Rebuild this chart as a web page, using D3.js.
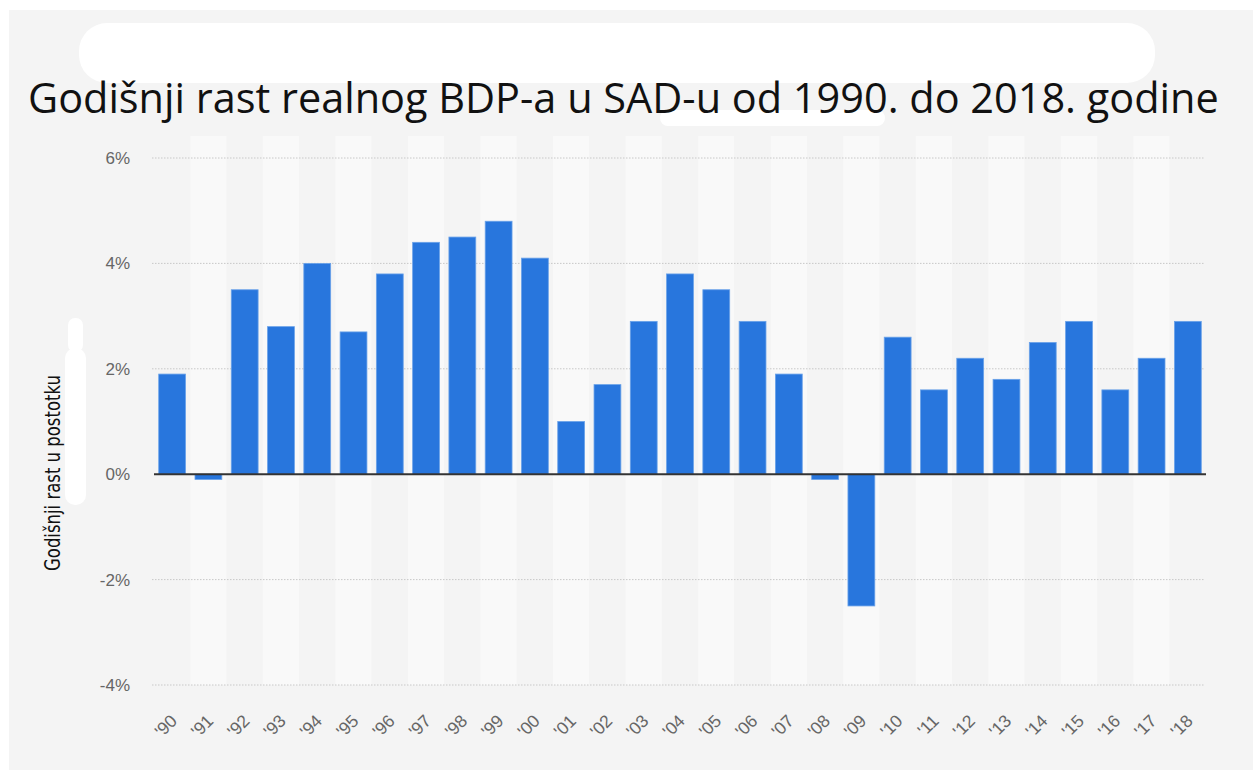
<!DOCTYPE html>
<html>
<head>
<meta charset="utf-8">
<script src="https://cdn.jsdelivr.net/npm/d3@7"></script>
<style>
  body { margin: 0; background: #fff; }
  svg { display: block; }
</style>
</head>
<body>
<div id="chart"></div>
<script>
const years = ["'90", "'91", "'92", "'93", "'94", "'95", "'96", "'97", "'98", "'99",
               "'00", "'01", "'02", "'03", "'04", "'05", "'06", "'07", "'08", "'09",
               "'10", "'11", "'12", "'13", "'14", "'15", "'16", "'17", "'18"];
const growth = [1.9, -0.1, 3.5, 2.8, 4.0, 2.7, 3.8, 4.4, 4.5, 4.8,
                4.1, 1.0, 1.7, 2.9, 3.8, 3.5, 2.9, 1.9, -0.1, -2.5,
                2.6, 1.6, 2.2, 1.8, 2.5, 2.9, 1.6, 2.2, 2.9];
const yTicks = [-4, -2, 0, 2, 4, 6];

const titleText = "Godišnji rast realnog BDP-a u SAD-u od 1990. do 2018. godine";
const yTitle = "Godišnji rast u postotku";

const width = 1253, height = 770;

const svg = d3.select("#chart").append("svg")
    .attr("width", width)
    .attr("height", height);

// panel
svg.append("rect")
    .attr("x", 9).attr("y", 10)
    .attr("width", width - 9).attr("height", height - 10)
    .attr("fill", "#f4f4f4");

const x = d3.scaleBand()
    .domain(years)
    .range([154, 1206])
    .padding(0);

const y = d3.scaleLinear()
    .domain([-4, 6])
    .range([685, 158]);

// alternating column bands
svg.append("g")
    .selectAll("rect")
    .data(years)
    .enter().append("rect")
    .attr("x", d => x(d))
    .attr("y", 136)
    .attr("width", x.bandwidth())
    .attr("height", y(-4) - 136)
    .attr("fill", (d, i) => i % 2 ? "#f9f9f9" : "#f4f4f4");

// gridlines + tick labels
const grid = svg.append("g");
grid.selectAll("line")
    .data(yTicks.filter(t => t !== 0))
    .enter().append("line")
    .attr("x1", 152).attr("x2", 1205)
    .attr("y1", d => y(d)).attr("y2", d => y(d))
    .attr("stroke", "#c8c8c8")
    .attr("stroke-width", 1)
    .attr("stroke-dasharray", "1.5,1.5");

grid.selectAll("text")
    .data(yTicks)
    .enter().append("text")
    .attr("x", 130)
    .attr("y", d => y(d))
    .attr("dy", "0.35em")
    .attr("text-anchor", "end")
    .attr("font-family", "'Liberation Sans', Arial, sans-serif")
    .attr("font-size", 17)
    .attr("fill", "#666")
    .text(d => d + "%");

// bars
const barW = x.bandwidth() * 0.74;
svg.append("g")
    .selectAll("rect")
    .data(growth)
    .enter().append("rect")
    .attr("x", (d, i) => x(years[i]) + (x.bandwidth() - barW) / 2)
    .attr("y", d => y(Math.max(0, d)))
    .attr("width", barW)
    .attr("height", d => Math.abs(y(d) - y(0)))
    .attr("fill", "#2876dd")
    .attr("stroke", "#6aa2e9")
    .attr("stroke-width", 0.8);

// zero line
svg.append("line")
    .attr("x1", 154).attr("x2", 1206)
    .attr("y1", y(0)).attr("y2", y(0))
    .attr("stroke", "#333")
    .attr("stroke-width", 2);

// x labels
svg.append("g")
    .selectAll("text")
    .data(years)
    .enter().append("text")
    .attr("transform", d => `translate(${x(d) + x.bandwidth() / 2 + 6},722) rotate(-45)`)
    .attr("text-anchor", "end")
    .attr("font-family", "'Liberation Sans', Arial, sans-serif")
    .attr("font-size", 17.5)
    .attr("fill", "#666")
    .text(d => d);

// y axis title
svg.append("text")
    .attr("transform", "translate(60,473) rotate(-90)")
    .attr("text-anchor", "middle")
    .attr("font-family", "'DejaVu Sans', sans-serif")
    .attr("font-size", 21)
    .attr("textLength", 196)
    .attr("lengthAdjust", "spacingAndGlyphs")
    .attr("fill", "#111")
    .text(yTitle);

// white cover-ups as in the source image
const covers = svg.append("g").attr("fill", "#fff");
covers.append("rect").attr("x", 79).attr("y", 23).attr("width", 1076).attr("height", 60).attr("rx", 28);
covers.append("rect").attr("x", 660).attr("y", 110).attr("width", 225).attr("height", 16).attr("rx", 8);
covers.append("rect").attr("x", 68).attr("y", 318).attr("width", 15).attr("height", 34).attr("rx", 7);
covers.append("rect").attr("x", 65).attr("y", 348).attr("width", 21).attr("height", 157).attr("rx", 10);

// title, sized to span the same width as in the picture
const title = svg.append("text")
    .attr("x", 28)
    .attr("y", 113)
    .attr("font-family", "'Open Sans', 'Noto Sans', sans-serif")
    .attr("font-size", 40)
    .attr("fill", "#111")
    .text(titleText);
const tw = title.node().getComputedTextLength();
title.attr("font-size", 40 * 1191 / tw);
</script>
</body>
</html>
